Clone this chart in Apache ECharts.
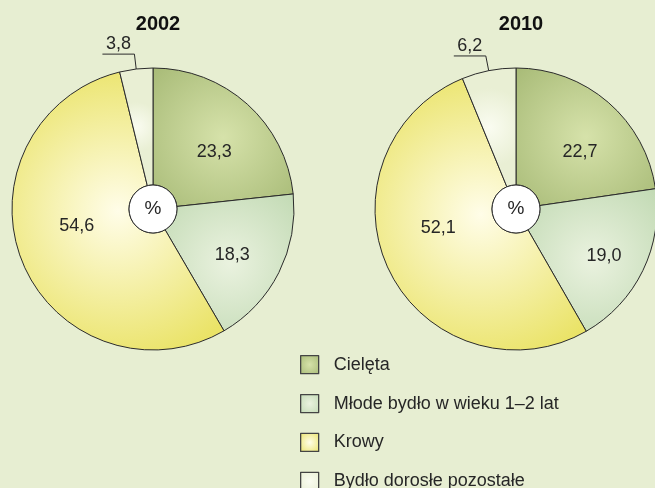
<!DOCTYPE html>
<html>
<head>
<meta charset="utf-8">
<script src="https://cdn.jsdelivr.net/npm/echarts@6/dist/echarts.min.js"></script>
<style>
  html, body { margin: 0; padding: 0; background: #e7eed2; }
  #chart { width: 655px; height: 488px; }
</style>
</head>
<body>
<div id="chart"></div>
<script>
const years = ['2002', '2010'];
const categories = ['Cielęta', 'Młode bydło w wieku 1–2 lat', 'Krowy', 'Bydło dorosłe pozostałe'];
const values2002 = [23.3, 18.3, 54.6, 3.8];
const values2010 = [22.7, 19.0, 52.1, 6.2];

// centre colour, edge colour of each slice
const sliceColors = [
  ['#d6e2aa', '#a7ba76'],
  ['#eaf2df', '#c2dab4'],
  ['#fffde8', '#eae367'],
  ['#fafcf1', '#e9efd4']
];

// small hand nudges of the inside labels (px), one row per pie
const labelNudge = [
  [[4, 7], [3, 7], [3, -15], [0, 0]],
  [[8, 8], [11, 10], [-1, -19], [0, 0]]
];

const centers = [[153, 209], [516, 209]];
const R = 141;
const HOLE = 24;

function grad(i) {
  return {
    type: 'radial', x: 0.5, y: 0.5, r: 0.72,
    colorStops: [
      {offset: 0, color: sliceColors[i][0]},
      {offset: 1, color: sliceColors[i][1]}
    ]
  };
}

function fmt(v) {
  return v.toFixed(1).replace('.', ',');
}

const textColor = '#262626';
const font = 'Liberation Sans, Arial, sans-serif';
const series = [];
const allValues = [values2002, values2010];

// main pies
allValues.forEach((vals, k) => {
  series.push({
    type: 'pie',
    center: centers[k],
    radius: [HOLE, R],
    startAngle: 90,
    avoidLabelOverlap: false,
    silent: true,
    itemStyle: {borderColor: '#2b2b2b', borderWidth: 1},
    label: {
      show: true,
      position: 'inside',
      color: textColor,
      fontSize: 18,
      fontFamily: font,
      formatter: p => fmt(p.value)
    },
    labelLine: {show: false},
    labelLayout: function (params) {
      const n = labelNudge[k][params.dataIndex];
      return {dx: n[0], dy: n[1]};
    },
    data: vals.map((v, i) => ({
      name: categories[i],
      value: v,
      itemStyle: {color: grad(i)},
      label: {show: i < 3}
    }))
  });
});

// overlay pies: only carry the outside label of the small slice
allValues.forEach((vals, k) => {
  series.push({
    type: 'pie',
    center: centers[k],
    radius: [0, 125],
    startAngle: 90,
    avoidLabelOverlap: false,
    silent: true,
    itemStyle: {color: 'rgba(0,0,0,0)', borderWidth: 0},
    label: {
      show: false,
      position: 'outside',
      color: textColor,
      fontSize: 18,
      fontFamily: font,
      formatter: p => fmt(p.value)
    },
    labelLine: {
      show: false,
      length: 31,
      length2: 32,
      lineStyle: {color: '#2b2b2b', width: 1}
    },
    labelLayout: function (params) {
      const pts = params.labelLinePoints;
      if (!pts || pts.length < 3) return {};
      return {
        x: (pts[1][0] + pts[2][0]) / 2,
        y: pts[2][1] - 1,
        align: 'center',
        verticalAlign: 'bottom',
        labelLinePoints: pts
      };
    },
    data: vals.map((v, i) => ({
      name: categories[i],
      value: v,
      label: {show: i === 3},
      labelLine: {show: i === 3}
    }))
  });
});

// white centre disc with "%"
centers.forEach(c => {
  series.push({
    type: 'pie',
    center: c,
    radius: [0, HOLE],
    silent: true,
    itemStyle: {color: '#ffffff', borderColor: '#2b2b2b', borderWidth: 1},
    label: {
      show: true,
      position: 'center',
      color: textColor,
      fontSize: 19,
      fontFamily: font,
      formatter: '%'
    },
    labelLine: {show: false},
    data: [{name: '%', value: 1}]
  });
});

const chart = echarts.init(document.getElementById('chart'));
chart.setOption({
  backgroundColor: '#e7eed2',
  animation: false,
  title: years.map((y, k) => ({
    text: y,
    left: centers[k][0],
    top: 9,
    textAlign: 'center',
    textStyle: {
      fontSize: 20,
      fontWeight: 'bold',
      color: '#111',
      fontFamily: font
    }
  })),
  legend: {
    data: categories,
    orient: 'vertical',
    left: 295,
    top: 350,
    height: 170,
    icon: 'rect',
    itemWidth: 18,
    itemHeight: 18,
    itemGap: 19.6,
    selectedMode: false,
    itemStyle: {borderColor: '#444', borderWidth: 1.3},
    textStyle: {
      fontSize: 18,
      color: textColor,
      padding: [0, 0, 0, 10],
      fontFamily: font
    }
  },
  series: series
});
</script>
</body>
</html>
